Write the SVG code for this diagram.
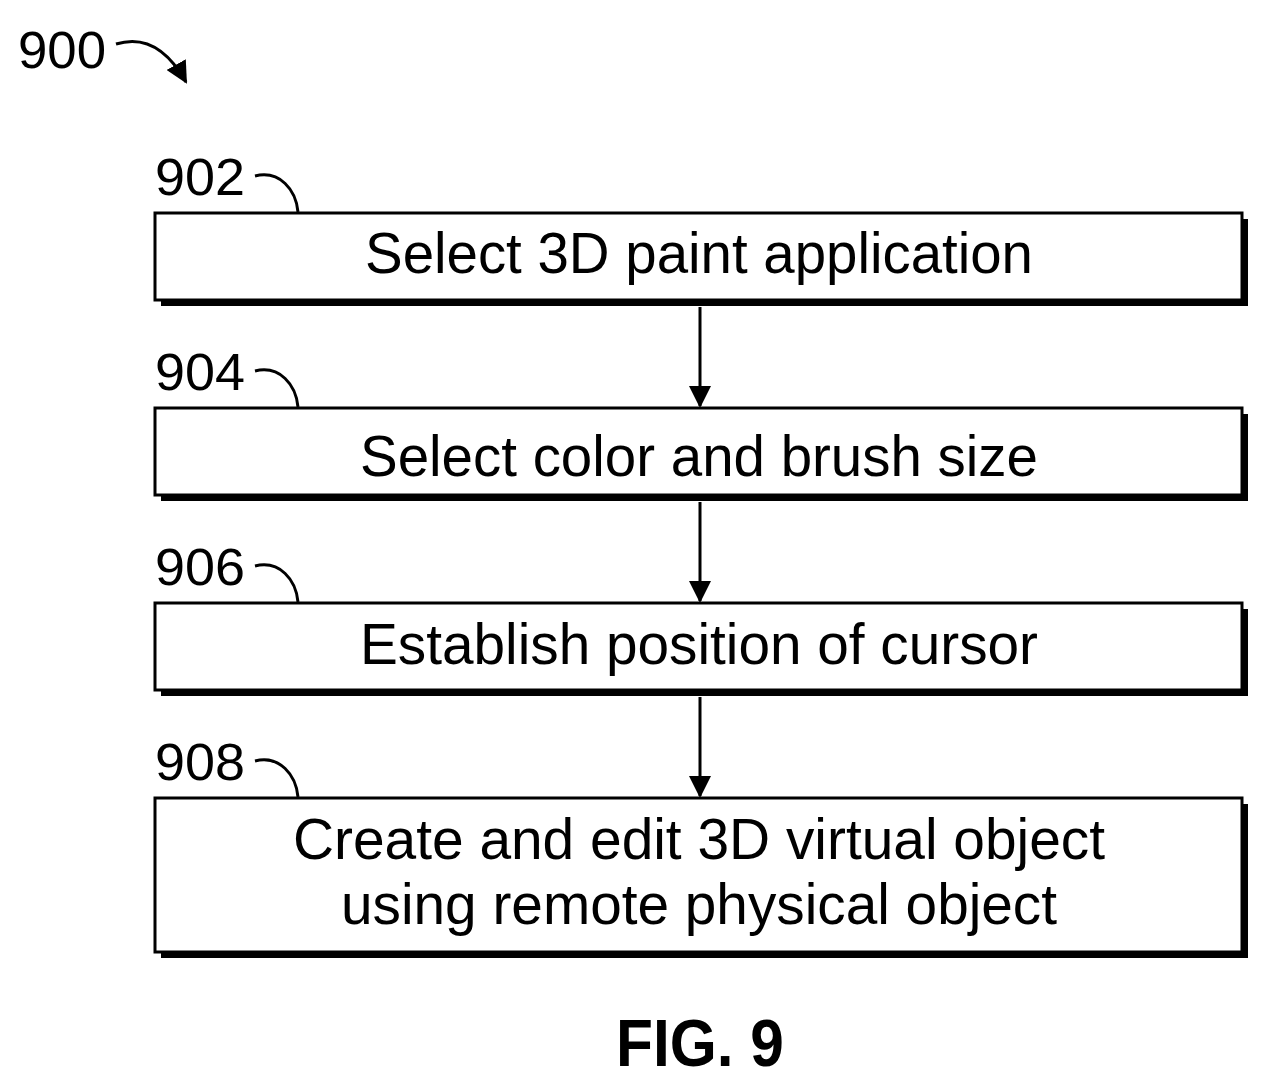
<svg xmlns="http://www.w3.org/2000/svg" width="1270" height="1088" viewBox="0 0 1270 1088">
<style>
.box{fill:#fff;stroke:#000;stroke-width:3}
.sh{fill:#000}
.t{font-family:"Liberation Sans Narrow","Liberation Sans",Arial,sans-serif;font-size:58px;text-anchor:middle}
.l{font-family:"Liberation Sans Narrow","Liberation Sans",Arial,sans-serif;font-size:52px}
.c{fill:none;stroke:#000;stroke-width:3}
</style>
<defs><marker id="ah" markerWidth="10" markerHeight="10" refX="9" refY="5" orient="auto" markerUnits="userSpaceOnUse" viewBox="0 0 10 10"><path d="M0,0 L10,5 L0,10 z"/></marker>
<marker id="ah2" markerWidth="22" markerHeight="22" refX="20" refY="11" orient="auto" markerUnits="userSpaceOnUse" viewBox="0 0 22 22"><path d="M0,0 L22,11 L0,22 z"/></marker></defs>
<g id="n900"><text class="l" x="18" y="68" textLength="88" lengthAdjust="spacingAndGlyphs">900</text><path class="c" d="M116,44 C145,35 168,50 186,82" marker-end="url(#ah2)"/></g>
<g id="n902"><rect class="sh" x="161" y="219" width="1087" height="87"/><rect class="box" x="155" y="213" width="1087" height="87"/><text class="t" x="699" y="273" textLength="668" lengthAdjust="spacingAndGlyphs">Select 3D paint application</text><text class="l" x="155" y="195" textLength="90" lengthAdjust="spacingAndGlyphs">902</text><path class="c" d="M255,176 C280,170 296,190 298,212"/></g>
<g id="n904"><rect class="sh" x="161" y="414" width="1087" height="87"/><rect class="box" x="155" y="408" width="1087" height="87"/><text class="t" x="699" y="476" textLength="678" lengthAdjust="spacingAndGlyphs">Select color and brush size</text><text class="l" x="155" y="390" textLength="90" lengthAdjust="spacingAndGlyphs">904</text><path class="c" d="M255,371 C280,365 296,385 298,407"/></g>
<g id="n906"><rect class="sh" x="161" y="609" width="1087" height="87"/><rect class="box" x="155" y="603" width="1087" height="87"/><text class="t" x="699" y="664" textLength="678" lengthAdjust="spacingAndGlyphs">Establish position of cursor</text><text class="l" x="155" y="585" textLength="90" lengthAdjust="spacingAndGlyphs">906</text><path class="c" d="M255,566 C280,560 296,580 298,602"/></g>
<g id="n908"><rect class="sh" x="161" y="804" width="1087" height="154"/><rect class="box" x="155" y="798" width="1087" height="154"/><text class="t" x="699" y="859" textLength="812" lengthAdjust="spacingAndGlyphs">Create and edit 3D virtual object</text><text class="t" x="699" y="924" textLength="716" lengthAdjust="spacingAndGlyphs">using remote physical object</text><text class="l" x="155" y="780" textLength="90" lengthAdjust="spacingAndGlyphs">908</text><path class="c" d="M255,761 C280,755 296,775 298,797"/></g>
<g id="connectors">
<line class="c" x1="700" y1="307" x2="700" y2="406" marker-end="url(#ah2)"/>
<line class="c" x1="700" y1="502" x2="700" y2="601" marker-end="url(#ah2)"/>
<line class="c" x1="700" y1="697" x2="700" y2="796" marker-end="url(#ah2)"/>
</g>
<text x="700" y="1066" font-family="Liberation Sans Narrow,Liberation Sans,Arial,sans-serif" font-weight="bold" font-size="66" text-anchor="middle" textLength="168" lengthAdjust="spacingAndGlyphs">FIG. 9</text>
</svg>
